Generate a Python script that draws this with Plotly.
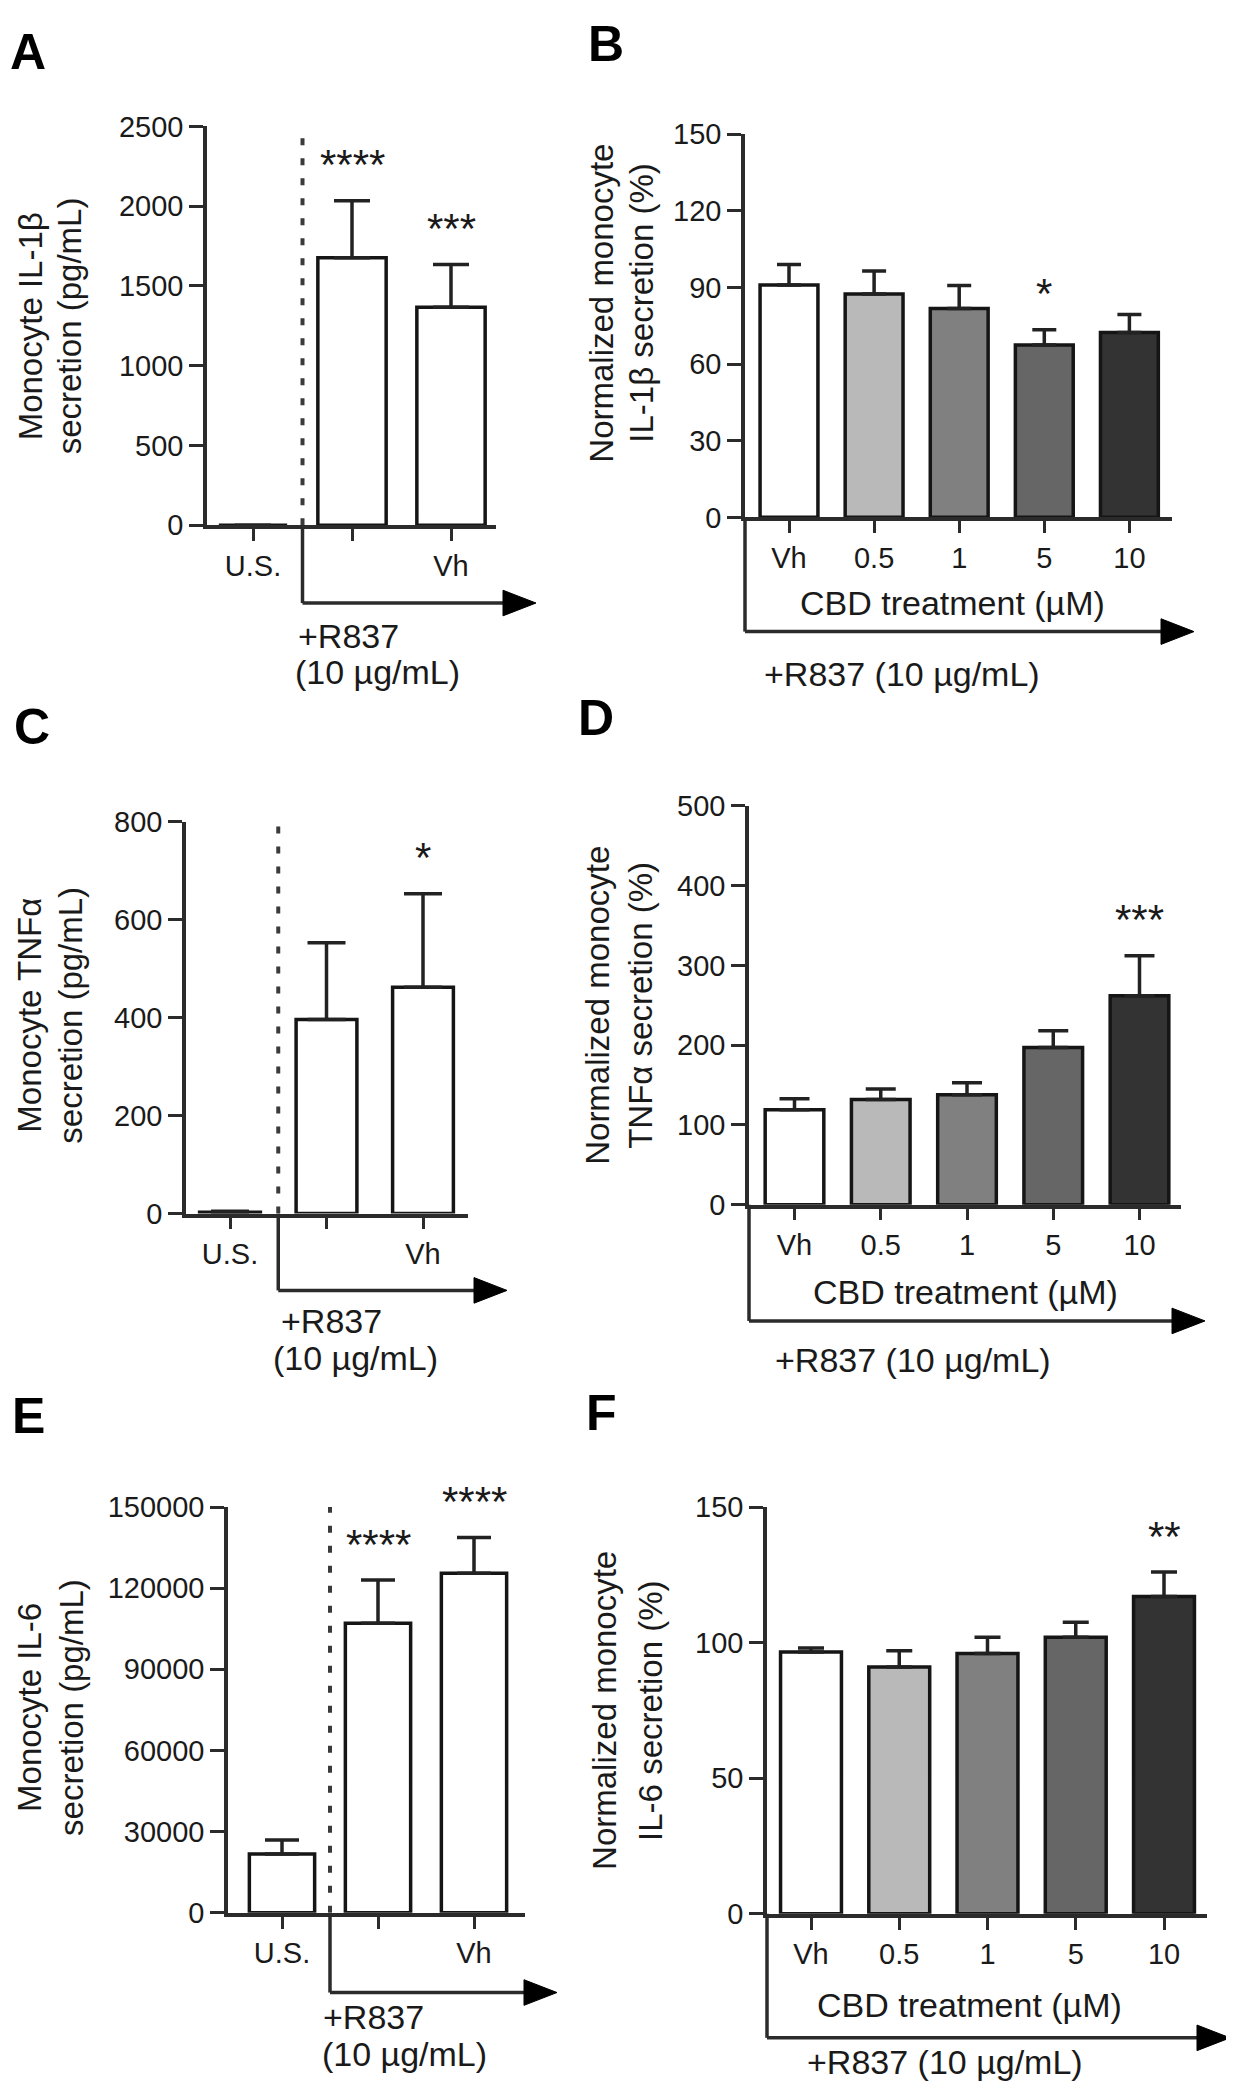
import plotly.graph_objects as go

W, H = 1234, 2100

# ---------------- data ----------------
a_cats = ["U.S.", "", "Vh"]
a_vals = [0, 1676, 1367]
a_errs = [0, 358, 268]
a_stars = ["", "****", "***"]

b_cats = ["Vh", "0.5", "1", "5", "10"]
b_vals = [91, 87.5, 81.8, 67.5, 72.4]
b_errs = [8, 9, 9, 6, 7]
b_stars = ["", "", "", "*", ""]

c_cats = ["U.S.", "", "Vh"]
c_vals = [3, 396, 462]
c_errs = [2, 157, 191]
c_stars = ["", "", "*"]

d_cats = ["Vh", "0.5", "1", "5", "10"]
d_vals = [119, 132, 138, 197, 262]
d_errs = [14, 13, 15, 21, 50]
d_stars = ["", "", "", "", "***"]

e_cats = ["U.S.", "", "Vh"]
e_vals = [21700, 107000, 125500]
e_errs = [5200, 16000, 13200]
e_stars = ["", "****", "****"]

f_cats = ["Vh", "0.5", "1", "5", "10"]
f_vals = [96.5, 91, 96, 102, 117]
f_errs = [1.5, 6, 6, 5.5, 9]
f_stars = ["", "", "", "", "**"]

white_colors = ["#ffffff", "#ffffff", "#ffffff"]
cbd_colors = ["#ffffff", "#b9b9b9", "#808080", "#666666", "#333333"]

# ---------------- layout config ----------------
FONT = "Liberation Sans, Arial, sans-serif"
INK = "#1a1a1a"
LINE = "#2b2b2b"
PAGE_OFF = 8  # default body margin of the html page

panels = [
    dict(letter="A", cats=a_cats, vals=a_vals, errs=a_errs, stars=a_stars, colors=white_colors,
         xd=(207, 496), yd=(112, 517), c0=253, dc=99, yr=(0, 2500), dtick=500, bw=0.69, cap=18,
         kind="ctrl", depth=79, tip=536,
         title=[("Monocyte IL-1β", 30), ("secretion (pg/mL)", 69)], tyc=315,
         letpos=(28, 36)),
    dict(letter="B", cats=b_cats, vals=b_vals, errs=b_errs, stars=b_stars, colors=cbd_colors,
         xd=(745, 1172), yd=(120, 509), c0=789, dc=85.1, yr=(0, 150), dtick=30, bw=0.68, cap=12,
         kind="cbd", depth=116, tip=1194,
         title=[("Normalized monocyte", 602), ("IL-1β secretion (%)", 642)], tyc=292,
         letpos=(606, 28), cbd=(952, 596), r837=(762, 668)),
    dict(letter="C", cats=c_cats, vals=c_vals, errs=c_errs, stars=c_stars, colors=white_colors,
         xd=(186, 468), yd=(818, 1216), c0=230, dc=96.5, yr=(0, 800), dtick=200, bw=0.63, cap=19,
         kind="ctrl", depth=78, tip=507,
         title=[("Monocyte TNFα", 30), ("secretion (pg/mL)", 71)], tyc=1015,
         letpos=(32, 722)),
    dict(letter="D", cats=d_cats, vals=d_vals, errs=d_errs, stars=d_stars, colors=cbd_colors,
         xd=(749, 1181), yd=(802, 1207), c0=794.5, dc=86.25, yr=(0, 500), dtick=100, bw=0.68, cap=15,
         kind="cbd", depth=118, tip=1205,
         title=[("Normalized monocyte", 598), ("TNFα secretion (%)", 641)], tyc=1005,
         letpos=(596, 713), cbd=(965, 1296), r837=(773, 1365)),
    dict(letter="E", cats=e_cats, vals=e_vals, errs=e_errs, stars=e_stars, colors=white_colors,
         xd=(228, 525), yd=(1514, 1926), c0=282, dc=96, yr=(0, 150000), dtick=30000, bw=0.68, cap=17,
         kind="ctrl", depth=81, tip=557,
         title=[("Monocyte IL-6", 30), ("secretion (pg/mL)", 72)], tyc=1718,
         letpos=(29, 1422)),
    dict(letter="F", cats=f_cats, vals=f_vals, errs=f_errs, stars=f_stars, colors=cbd_colors,
         xd=(767, 1207), yd=(1514, 1927), c0=811, dc=88.25, yr=(0, 150), dtick=50, bw=0.69, cap=13,
         kind="cbd", depth=126, tip=1230,
         title=[("Normalized monocyte", 605), ("IL-6 secretion (%)", 651)], tyc=1721,
         letpos=(601, 1419), cbd=(970, 2020), r837=(805, 2078)),
]

ctrl_r837 = {"A": [((296, 629), "+R837"), ((293, 666), "(10 µg/mL)")],
             "C": [((279, 1325), "+R837"), ((271, 1363), "(10 µg/mL)")],
             "E": [((321, 2032), "+R837"), ((320, 2069), "(10 µg/mL)")]}


def fx(px):
    return (px - PAGE_OFF) / W


def fy(py):
    return 1 - (py - PAGE_OFF) / H


fig = go.Figure()
layout = dict(width=W, height=H, margin=dict(l=0, r=0, t=0, b=0),
              paper_bgcolor="white", plot_bgcolor="white", showlegend=False,
              font=dict(family=FONT, color=INK))
annotations = []
shapes = []

for i, p in enumerate(panels, start=1):
    sfx = "" if i == 1 else str(i)
    xa, ya = "x" + sfx, "y" + sfx
    n = len(p["cats"])
    xs = list(range(n))
    xr = [(p["xd"][0] - p["c0"]) / p["dc"], (p["xd"][1] - p["c0"]) / p["dc"]]

    fig.add_trace(go.Bar(
        x=xs, y=p["vals"], width=p["bw"], xaxis=xa, yaxis=ya,
        marker=dict(color=p["colors"], line=dict(color="#151515", width=3.5)),
        error_y=dict(type="data", symmetric=False, array=p["errs"], arrayminus=[0] * n,
                     color="#222222", thickness=3.5, width=p["cap"]),
        hoverinfo="skip"))

    layout["xaxis" + sfx] = dict(
        domain=[fx(p["xd"][0]), fx(p["xd"][1])], range=xr, anchor=ya,
        tickmode="array", tickvals=xs, ticktext=p["cats"],
        showline=True, linecolor=LINE, linewidth=3.5,
        ticks="outside", ticklen=12, tickwidth=3, tickcolor=LINE,
        showgrid=False, zeroline=False, fixedrange=True,
        tickfont=dict(size=29, family=FONT, color=INK))
    layout["yaxis" + sfx] = dict(
        domain=[fy(p["yd"][1]), fy(p["yd"][0])], range=list(p["yr"]), anchor=xa,
        dtick=p["dtick"], tick0=0, tickformat="d",
        showline=True, linecolor=LINE, linewidth=3.5,
        ticks="outside", ticklen=14, tickwidth=3, tickcolor=LINE,
        showgrid=False, zeroline=False, fixedrange=True,
        tickfont=dict(size=29, family=FONT, color=INK))

    # significance stars
    for k, s in enumerate(p["stars"]):
        if s:
            annotations.append(dict(
                x=k, y=p["vals"][k] + p["errs"][k], xref=xa, yref=ya, text=s,
                showarrow=False, yanchor="middle", xanchor="center", yshift=36,
                font=dict(size=42, family=FONT, color=INK)))

    # y titles (two lines, rotated)
    for txt, xc in p["title"]:
        annotations.append(dict(
            x=fx(xc), y=fy(p["tyc"]), xref="paper", yref="paper", text=txt,
            textangle=-90, showarrow=False, xanchor="center", yanchor="middle",
            font=dict(size=33, family=FONT, color=INK)))

    # panel letter
    annotations.append(dict(
        x=fx(p["letpos"][0]), y=fy(p["letpos"][1]), xref="paper", yref="paper",
        text="<b>%s</b>" % p["letter"], showarrow=False, xanchor="center", yanchor="middle",
        font=dict(size=50, family=FONT, color="#000000")))

    # bracket + arrow
    axis_y = p["yd"][1]
    if p["kind"] == "ctrl":
        bx = p["c0"] + 0.5 * p["dc"]
        shapes.append(dict(type="line", xref=xa, yref=ya, x0=0.5, x1=0.5, y0=0, y1=p["yr"][1],
                           line=dict(color="#3a3a3a", width=4, dash="7px,13px")))
    else:
        bx = p["xd"][0]
    by = axis_y + p["depth"]
    shapes.append(dict(type="line", xref="paper", yref="paper",
                       x0=fx(bx), x1=fx(bx), y0=fy(axis_y), y1=fy(by),
                       line=dict(color=LINE, width=3.5)))
    alen, ah = 33, 13
    shapes.append(dict(type="line", xref="paper", yref="paper",
                       x0=fx(bx), x1=fx(p["tip"] - alen + 2), y0=fy(by), y1=fy(by),
                       line=dict(color=LINE, width=3.5)))
    path = "M %f,%f L %f,%f L %f,%f Z" % (
        fx(p["tip"]), fy(by), fx(p["tip"] - alen), fy(by - ah), fx(p["tip"] - alen), fy(by + ah))
    shapes.append(dict(type="path", xref="paper", yref="paper", path=path,
                       fillcolor="#000000", line=dict(color="#000000", width=1)))

    # text labels under axes
    if p["kind"] == "cbd":
        annotations.append(dict(
            x=fx(p["cbd"][0]), y=fy(p["cbd"][1]), xref="paper", yref="paper",
            text="CBD treatment (µM)", showarrow=False, xanchor="center", yanchor="middle",
            font=dict(size=34, family=FONT, color=INK)))
        annotations.append(dict(
            x=fx(p["r837"][0]), y=fy(p["r837"][1]), xref="paper", yref="paper",
            text="+R837 (10 µg/mL)", showarrow=False, xanchor="left", yanchor="middle",
            font=dict(size=34, family=FONT, color=INK)))
    else:
        for (lx, ly), txt in ctrl_r837[p["letter"]]:
            annotations.append(dict(
                x=fx(lx), y=fy(ly), xref="paper", yref="paper", text=txt,
                showarrow=False, xanchor="left", yanchor="middle",
                font=dict(size=34, family=FONT, color=INK)))

layout["annotations"] = annotations
layout["shapes"] = shapes
fig.update_layout(**layout)

fig.write_html("out.html")
